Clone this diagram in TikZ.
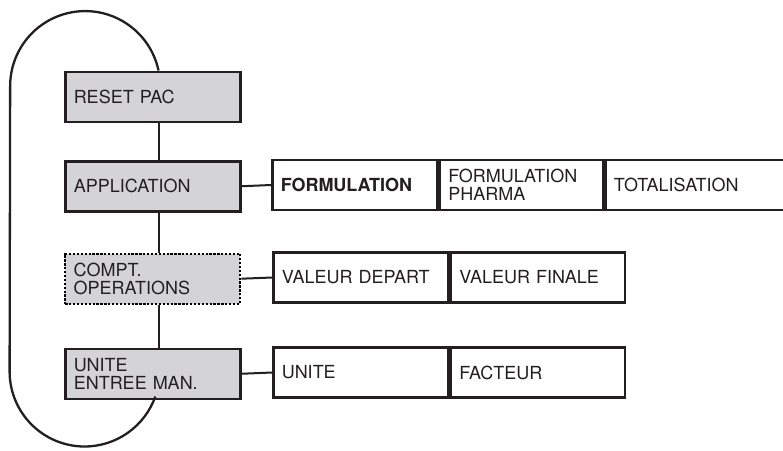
\documentclass[tikz,border=0pt]{standalone}
\usepackage{fontspec}
\setmainfont{TeX Gyre Heros}
\definecolor{boxgray}{RGB}{212,212,214}
\definecolor{ink}{RGB}{35,31,32}
\begin{document}
\begin{tikzpicture}[x=1pt,y=-1pt,
  box/.style={draw=ink, text=ink, line width=2.5pt, minimum height=50pt, inner xsep=8.5pt, inner ysep=0pt,
    align=left, font=\fontsize{18}{18}\selectfont},
  leftbox/.style={box, fill=boxgray, text width=158pt, anchor=north west},
  rbox/.style={box, fill=white, anchor=west},
  dotbox/.style={leftbox, draw=black, line width=2.4pt, dash pattern=on 2.3pt off 1.6pt},
  link/.style={draw=ink, line width=2pt},
  loop/.style={draw=ink, line width=2.3pt}]
\useasboundingbox (0,0) rectangle (783,450);
\clip (0,0) rectangle (783,450);
% connectors
\coordinate (vx) at (158.5,0);
% left column
\node[leftbox] (reset) at (64,70.5) {RESET PAC};
\node[leftbox] (app) at (64,160) {APPLICATION};
\node[dotbox] (compt) at (64,252.5) {COMPT.\\OPERATIONS};
\node[leftbox] (unite) at (64,347.5) {UNITE\\ENTREE MAN.};
% right rows
\node[rbox, text width=148pt] (f1) at (271,185) {\textbf{FORMULATION}};
\node[rbox, text width=146pt] (f2) at (f1.east) {FORMULATION\\PHARMA};
\node[rbox, text width=190pt] (f3) at (f2.east) {TOTALISATION};
\node[rbox, text width=158pt] (v1) at (272,277.5) {VALEUR DEPART};
\node[rbox, text width=157pt] (v2) at (v1.east) {VALEUR FINALE};
\node[rbox, text width=158pt] (u1) at (272,372.5) {UNITE};
\node[rbox, text width=157pt] (u2) at (u1.east) {FACTEUR};
\draw[link] (reset.south -| vx) -- (app.north -| vx);
\draw[link] (app.south -| vx) -- (compt.north -| vx);
\draw[link] (compt.south -| vx) -- (unite.north -| vx);
\draw[link] (app.east) -- (f1.west);
\draw[link] (compt.east) -- (v1.west);
\draw[link] (unite.east) -- (u1.west);
% loop
\coordinate (lb) at (9.6,371.5);
\draw[loop] (reset.north -| vx) arc[start angle=12, end angle=180, radius=75pt]
  -- (lb) arc[start angle=180, end angle=340.5, radius=75pt];
\end{tikzpicture}
\end{document}
